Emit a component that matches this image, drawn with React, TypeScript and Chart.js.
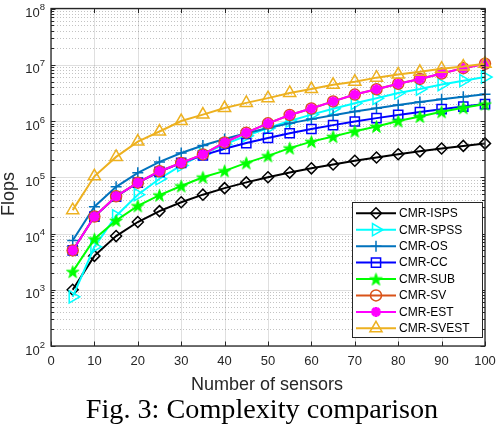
import React, { useEffect, useRef } from 'react';
import { Chart, registerables } from 'chart.js';

Chart.register(...registerables);

// ---------------- data ----------------
const SENSORS = [5, 10, 15, 20, 25, 30, 35, 40, 45, 50, 55, 60, 65, 70, 75, 80, 85, 90, 95, 100];

const CMR_ISPS = [1000, 4000, 9000, 16000, 25000, 36000, 49000, 64000, 81000, 100000, 121000, 144000, 169000, 196000, 225000, 256000, 289000, 324000, 361000, 400000];
const CMR_SPSS = [750, 5800, 20500, 49000, 94000, 162000, 257000, 384000, 547000, 750000, 1000000, 1300000, 1650000, 2060000, 2530000, 3150000, 3700000, 4450000, 5200000, 6050000];
const CMR_OS = [7500, 30000, 67500, 120000, 187500, 270000, 367500, 480000, 607500, 750000, 907500, 1080000, 1267500, 1470000, 1687500, 1920000, 2167500, 2430000, 2707500, 3000000];
const CMR_CC = [5000, 20000, 45000, 80000, 125000, 180000, 245000, 320000, 405000, 500000, 605000, 720000, 845000, 980000, 1125000, 1280000, 1445000, 1620000, 1805000, 2000000];
const CMR_SUB = [2100, 8000, 17000, 31000, 48000, 70000, 100000, 130000, 180000, 240000, 330000, 430000, 530000, 660000, 800000, 1000000, 1200000, 1460000, 1720000, 2000000];
const CMR_SV = [5000, 20000, 46000, 80000, 128000, 180000, 255000, 415000, 620000, 910000, 1280000, 1670000, 2230000, 2950000, 3670000, 4600000, 5600000, 7000000, 8700000, 10400000];
const CMR_EST = [5000, 20000, 46000, 80000, 128000, 180000, 255000, 415000, 620000, 910000, 1280000, 1670000, 2230000, 2950000, 3670000, 4600000, 5600000, 7000000, 8700000, 10400000];
const CMR_SVEST = [26000, 104000, 230000, 430000, 650000, 1000000, 1300000, 1700000, 2100000, 2550000, 3150000, 3700000, 4400000, 5000000, 5900000, 6700000, 7500000, 8500000, 9300000, 10400000];

const SERIES_NAMES = ['CMR-ISPS', 'CMR-SPSS', 'CMR-OS', 'CMR-CC', 'CMR-SUB', 'CMR-SV', 'CMR-EST', 'CMR-SVEST'];
const SERIES_VALUES = [CMR_ISPS, CMR_SPSS, CMR_OS, CMR_CC, CMR_SUB, CMR_SV, CMR_EST, CMR_SVEST];

const X_TICKS = [0, 10, 20, 30, 40, 50, 60, 70, 80, 90, 100];
const Y_TICK_EXPONENTS = [2, 3, 4, 5, 6, 7, 8];
const X_TITLE = 'Number of sensors';
const Y_TITLE = 'Flops';
const CAPTION = 'Fig. 3: Complexity comparison';

// ---------------- styles ----------------
const COLORS = ['#000000', '#00FFFF', '#0072BD', '#0000FF', '#00FF00', '#D95319', '#FF00FF', '#EDB120'];
type MarkerSpec = { style: string; radius: number; rotation: number; width: number };
const MARKERS: MarkerSpec[] = [
  { style: 'rectRot', radius: 5.5, rotation: 0, width: 1.5 },
  { style: 'triangle', radius: 7, rotation: 90, width: 1.5 },
  { style: 'cross', radius: 5.5, rotation: 0, width: 1.5 },
  { style: 'rect', radius: 6.5, rotation: 0, width: 1.5 },
  { style: 'pentagram', radius: 6.5, rotation: 0, width: 1 },
  { style: 'circle', radius: 5.5, rotation: 0, width: 1.5 },
  { style: 'star', radius: 5, rotation: 0, width: 3 },
  { style: 'triangle', radius: 7, rotation: 0, width: 1.5 },
];

const W = 496;
const H = 400;
const FONT = '"Liberation Sans", Arial, Helvetica, sans-serif';
const AXIS_COLOR = '#262626';

function makePentagram(color: string, R: number): HTMLCanvasElement {
  const size = Math.ceil(2 * R + 4);
  const c = document.createElement('canvas');
  c.width = size;
  c.height = size;
  const ctx = c.getContext('2d')!;
  const cx = size / 2;
  const cy = size / 2 + R * 0.1;
  const r = R * 0.382;
  ctx.beginPath();
  for (let i = 0; i < 10; i++) {
    const a = -Math.PI / 2 + (i * Math.PI) / 5;
    const rr = i % 2 === 0 ? R : r;
    const px = cx + rr * Math.cos(a);
    const py = cy + rr * Math.sin(a);
    if (i === 0) ctx.moveTo(px, py);
    else ctx.lineTo(px, py);
  }
  ctx.closePath();
  ctx.fillStyle = color;
  ctx.fill();
  ctx.strokeStyle = color;
  ctx.lineWidth = 1;
  ctx.stroke();
  return c;
}

function drawMarker(ctx: CanvasRenderingContext2D, m: MarkerSpec, color: string, x: number, y: number, img: HTMLCanvasElement | null) {
  ctx.save();
  ctx.strokeStyle = color;
  ctx.lineWidth = m.width;
  const r = m.radius;
  if (img) {
    ctx.drawImage(img, x - img.width / 2, y - img.height / 2);
    ctx.restore();
    return;
  }
  ctx.beginPath();
  if (m.style === 'rectRot') {
    ctx.moveTo(x, y - r);
    ctx.lineTo(x + r, y);
    ctx.lineTo(x, y + r);
    ctx.lineTo(x - r, y);
    ctx.closePath();
  } else if (m.style === 'triangle') {
    let a = (m.rotation * Math.PI) / 180;
    for (let i = 0; i < 3; i++) {
      const px = x + Math.sin(a) * r;
      const py = y - Math.cos(a) * r;
      if (i === 0) ctx.moveTo(px, py);
      else ctx.lineTo(px, py);
      a += (2 * Math.PI) / 3;
    }
    ctx.closePath();
  } else if (m.style === 'cross') {
    ctx.moveTo(x - r, y);
    ctx.lineTo(x + r, y);
    ctx.moveTo(x, y - r);
    ctx.lineTo(x, y + r);
  } else if (m.style === 'rect') {
    const s = r * Math.SQRT1_2;
    ctx.rect(x - s, y - s, 2 * s, 2 * s);
  } else if (m.style === 'circle') {
    ctx.arc(x, y, r, 0, Math.PI * 2);
  } else if (m.style === 'star') {
    for (let i = 0; i < 4; i++) {
      const a = (i * Math.PI) / 4;
      ctx.moveTo(x - Math.cos(a) * r, y - Math.sin(a) * r);
      ctx.lineTo(x + Math.cos(a) * r, y + Math.sin(a) * r);
    }
  }
  ctx.stroke();
  ctx.restore();
}

export default function App() {
  const canvasRef = useRef<HTMLCanvasElement | null>(null);

  useEffect(() => {
    const canvas = canvasRef.current;
    if (!canvas) return;
    const pentagram = makePentagram(COLORS[4], MARKERS[4].radius);

    const datasets = SERIES_VALUES.map((vals, i) => {
      const m = MARKERS[i];
      return {
        label: SERIES_NAMES[i],
        data: SENSORS.map((x, j) => ({ x, y: vals[j] })),
        borderColor: COLORS[i],
        backgroundColor: COLORS[i],
        borderWidth: 2,
        tension: 0,
        fill: false,
        clip: false as any,
        order: SERIES_VALUES.length - i,
        pointStyle: m.style === 'pentagram' ? pentagram : m.style,
        pointRadius: m.radius,
        pointRotation: m.rotation,
        pointBorderWidth: m.width,
        pointBorderColor: COLORS[i],
        pointBackgroundColor: 'rgba(0,0,0,0)',
        pointHoverRadius: m.radius,
      };
    });

    const gridPlugin = {
      id: 'matlabGrid',
      beforeDatasetsDraw(chart: any) {
        const { ctx, chartArea: a, scales } = chart;
        const xs = scales.x;
        const ys = scales.y;
        ctx.save();
        // minor dotted horizontal grid
        ctx.strokeStyle = 'rgba(38,38,38,0.28)';
        ctx.lineWidth = 1;
        ctx.setLineDash([1, 2]);
        for (let d = Y_TICK_EXPONENTS[0]; d < Y_TICK_EXPONENTS[Y_TICK_EXPONENTS.length - 1]; d++) {
          for (let k = 2; k <= 9; k++) {
            const y = Math.round(ys.getPixelForValue(k * Math.pow(10, d))) + 0.5;
            ctx.beginPath();
            ctx.moveTo(a.left, y);
            ctx.lineTo(a.right, y);
            ctx.stroke();
          }
        }
        ctx.setLineDash([]);
        // major grid
        ctx.strokeStyle = 'rgba(38,38,38,0.15)';
        for (const e of Y_TICK_EXPONENTS) {
          const y = Math.round(ys.getPixelForValue(Math.pow(10, e))) + 0.5;
          ctx.beginPath();
          ctx.moveTo(a.left, y);
          ctx.lineTo(a.right, y);
          ctx.stroke();
        }
        for (const t of X_TICKS) {
          const x = Math.round(xs.getPixelForValue(t)) + 0.5;
          ctx.beginPath();
          ctx.moveTo(x, a.top);
          ctx.lineTo(x, a.bottom);
          ctx.stroke();
        }
        ctx.restore();
      },
      afterDatasetsDraw(chart: any) {
        const { ctx, chartArea: a, scales } = chart;
        const xs = scales.x;
        const ys = scales.y;
        ctx.save();
        ctx.strokeStyle = AXIS_COLOR;
        ctx.lineWidth = 1.3;
        ctx.strokeRect(a.left, a.top, a.right - a.left, a.bottom - a.top);
        ctx.lineWidth = 1;
        const tl = 4.5;
        for (const t of X_TICKS) {
          const x = Math.round(xs.getPixelForValue(t)) + 0.5;
          ctx.beginPath();
          ctx.moveTo(x, a.bottom);
          ctx.lineTo(x, a.bottom - tl);
          ctx.moveTo(x, a.top);
          ctx.lineTo(x, a.top + tl);
          ctx.stroke();
        }
        for (let d = Y_TICK_EXPONENTS[0]; d <= Y_TICK_EXPONENTS[Y_TICK_EXPONENTS.length - 1]; d++) {
          for (let k = 1; k <= 9; k++) {
            if (d === Y_TICK_EXPONENTS[Y_TICK_EXPONENTS.length - 1] && k > 1) break;
            const y = Math.round(ys.getPixelForValue(k * Math.pow(10, d))) + 0.5;
            const len = k === 1 ? tl : 3;
            ctx.beginPath();
            ctx.moveTo(a.left, y);
            ctx.lineTo(a.left + len, y);
            ctx.moveTo(a.right, y);
            ctx.lineTo(a.right - len, y);
            ctx.stroke();
          }
        }
        ctx.restore();
      },
      afterDraw(chart: any) {
        const { ctx, chartArea: a, scales } = chart;
        const ys = scales.y;
        ctx.save();
        ctx.fillStyle = AXIS_COLOR;
        // y tick labels 10^e
        for (const e of Y_TICK_EXPONENTS) {
          const y = ys.getPixelForValue(Math.pow(10, e));
          ctx.font = `13px ${FONT}`;
          const base = '10';
          const wb = ctx.measureText(base).width;
          ctx.font = `9.5px ${FONT}`;
          const sup = String(e);
          const ws = ctx.measureText(sup).width;
          const xEnd = a.left - 6;
          ctx.textAlign = 'left';
          ctx.textBaseline = 'alphabetic';
          ctx.font = `13px ${FONT}`;
          ctx.fillText(base, xEnd - ws - wb, y + 8.5);
          ctx.font = `9.5px ${FONT}`;
          ctx.fillText(sup, xEnd - ws, y + 1.5);
        }
        // axis titles
        ctx.font = `18px ${FONT}`;
        ctx.textAlign = 'center';
        ctx.textBaseline = 'alphabetic';
        ctx.fillText(X_TITLE, (a.left + a.right) / 2 - 1, a.bottom + 44);
        ctx.save();
        ctx.translate(9, 194);
        ctx.rotate(-Math.PI / 2);
        ctx.textBaseline = 'middle';
        ctx.fillText(Y_TITLE, 0, 0);
        ctx.restore();

        // legend inside the axes
        const bw = 130;
        const bh = 135;
        const bx = a.right - 3 - bw;
        const by = a.bottom - 9 - bh;
        ctx.fillStyle = '#FFFFFF';
        ctx.fillRect(bx, by, bw, bh);
        ctx.strokeStyle = AXIS_COLOR;
        ctx.lineWidth = 1;
        ctx.strokeRect(bx + 0.5, by + 0.5, bw, bh);
        const rowH = 16.43;
        SERIES_NAMES.forEach((name, i) => {
          const yy = by + 11.3 + i * rowH;
          ctx.strokeStyle = COLORS[i];
          ctx.lineWidth = 2;
          ctx.beginPath();
          ctx.moveTo(bx + 4, yy);
          ctx.lineTo(bx + 44, yy);
          ctx.stroke();
          drawMarker(ctx, MARKERS[i], COLORS[i], bx + 24, yy, MARKERS[i].style === 'pentagram' ? pentagram : null);
          ctx.fillStyle = '#000000';
          ctx.font = `12px ${FONT}`;
          ctx.textAlign = 'left';
          ctx.textBaseline = 'middle';
          ctx.fillText(name, bx + 47, yy + 0.5);
        });
        ctx.restore();
      },
    };

    const chart = new Chart(canvas, {
      type: 'line',
      data: { datasets: datasets as any },
      options: {
        animation: false,
        responsive: false,
        events: [],
        layout: { padding: { left: 0, top: 6, right: 11, bottom: 0 } },
        plugins: { legend: { display: false }, tooltip: { enabled: false }, title: { display: false } },
        scales: {
          x: {
            type: 'linear',
            min: 0,
            max: 100,
            ticks: {
              stepSize: 10,
              autoSkip: false,
              maxRotation: 0,
              padding: 8,
              color: AXIS_COLOR,
              font: { size: 13, family: FONT },
            },
            grid: { display: false, drawTicks: false },
            border: { display: false },
            afterFit: (s: any) => {
              s.height = H - 346;
              s.paddingLeft = 0;
              s.paddingRight = 0;
            },
          },
          y: {
            type: 'logarithmic',
            min: 100,
            max: 1e8,
            ticks: { display: false },
            grid: { display: false, drawTicks: false },
            border: { display: false },
            afterFit: (s: any) => {
              s.width = 51;
              s.paddingTop = 0;
              s.paddingBottom = 0;
            },
          },
        },
      },
      plugins: [gridPlugin],
    });

    return () => {
      chart.destroy();
    };
  }, []);

  return (
    <div style={{ position: 'absolute', left: 0, top: 0, width: W, height: 426, overflow: 'hidden', background: '#FFFFFF' }}>
      <canvas ref={canvasRef} width={W} height={H} style={{ display: 'block', width: W, height: H }} />
      <div
        style={{
          position: 'absolute',
          left: 28,
          top: 395,
          width: 468,
          textAlign: 'center',
          whiteSpace: 'nowrap',
          fontFamily: '"Liberation Serif", "Times New Roman", Times, serif',
          fontSize: 28.2,
          lineHeight: '28px',
          color: '#000000',
        }}
      >
        {CAPTION}
      </div>
    </div>
  );
}
